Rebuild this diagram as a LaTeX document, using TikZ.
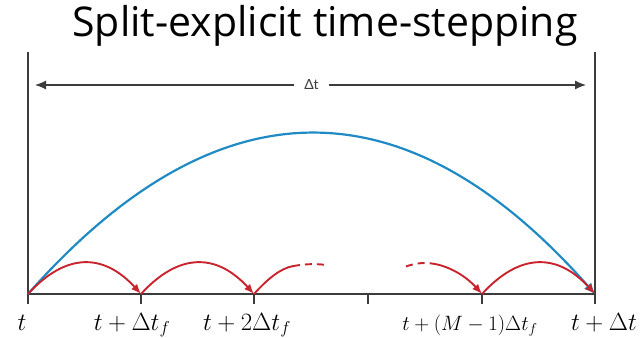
\documentclass[tikz,border=0pt]{standalone}
\usepackage{fontspec}
\setmainfont{Lato}
\newfontfamily\titlefont{Open Sans}
\usepackage{tikz}
\usetikzlibrary{arrows.meta, positioning, calc}
\definecolor{stepBlue}{HTML}{1F8AC4}
\definecolor{stepRed}{HTML}{C9232E}
\definecolor{axisGrey}{HTML}{3C3C3C}

\begin{document}
\begin{tikzpicture}[x=1pt, y=1pt,
  every node/.style={inner sep=0pt},
  axis/.style={axisGrey, line width=1.4pt},
  dimarr/.style={{Latex[length=11pt,width=9pt]}-{Latex[length=11pt,width=9pt]}, axisGrey, line width=1.1pt},
  slow/.style={-{Latex[length=11pt,width=10pt]}, stepBlue, line width=2.2pt},
  fast/.style={-{Latex[length=10pt,width=8pt]}, stepRed, line width=1.9pt},
  fastline/.style={stepRed, line width=1.9pt},
  fastdash/.style={stepRed, line width=1.9pt, dash pattern=on 7pt off 5pt},
  lab/.style={anchor=base, font=\fontsize{23}{23}\selectfont},
]
  \useasboundingbox (0,0) rectangle (644,337);
  \node[anchor=base, font=\titlefont\fontsize{41}{41}\selectfont] (title) at (325,300) {Split-explicit time-stepping};

  \foreach \i/\x in {0/28, 1/141, 2/254, 3/368, 4/482, 5/595}
    \coordinate (t\i) at (\x,43);
  \coordinate (top0) at (28,285);
  \coordinate (top5) at (595,285);
  \coordinate (d0) at (28,252);
  \coordinate (d5) at (595,252);

  \draw[axis] (top0) -- ($(t0)+(0,-10)$);
  \draw[axis] (top5) -- ($(t5)+(0,-10)$);
  \draw[axis] (t0) -- (t5);
  \foreach \i in {1,...,4}
    \draw[axis] (t\i) -- ++(0,-10);

  \draw[dimarr, shorten <=7pt, shorten >=9pt] (d0) -- node[fill=white, inner xsep=10pt, inner ysep=2pt,
    font=\fontsize{14}{14}\selectfont, text=axisGrey] (dtlab) {Δt} (d5);

  \node[lab, font=\fontsize{27}{27}\selectfont] (l0) at (22,7) {$t$};
  \node[lab] (l1) at (132,7) {$t+\Delta t_f$};
  \node[lab] (l2) at (247,7) {$t+2\Delta t_f$};
  \node[lab, font=\fontsize{20}{20}\selectfont] (l4) at (470,7) {$t+(M-1)\Delta t_f$};
  \node[lab, font=\fontsize{25}{25}\selectfont] (l5) at (604,7) {$t+\Delta t$};

  \draw[slow] (t0) .. controls +(189,214) and +(-189,214) .. (t5);

  \coordinate (s3) at (293,70.9);
  \coordinate (e3) at (325,72.1);
  \coordinate (s4) at (406,70.5);
  \coordinate (e4) at (435,73);

  \draw[fast] (t0) .. controls +(37.7,41.3) and +(-37.7,41.3) .. (t1);
  \draw[fast] (t1) .. controls +(37.7,41.3) and +(-37.7,41.3) .. (t2);
  \draw[fastline] (t2) .. controls +(13,14.4) and +(-13,-2.3) .. (s3);
  \draw[fastdash] (s3) .. controls +(10.7,1.9) and +(-10.7,1.5) .. (e3);
  \draw[fastdash] (s4) .. controls +(9.7,3.6) and +(-9.7,1.9) .. (e4);
  \draw[fast] (e4) .. controls +(15.7,-3) and +(-15.7,17.4) .. (t4);
  \draw[fast] (t4) .. controls +(37.7,41.3) and +(-37.7,41.3) .. (t5);
\end{tikzpicture}
\end{document}
